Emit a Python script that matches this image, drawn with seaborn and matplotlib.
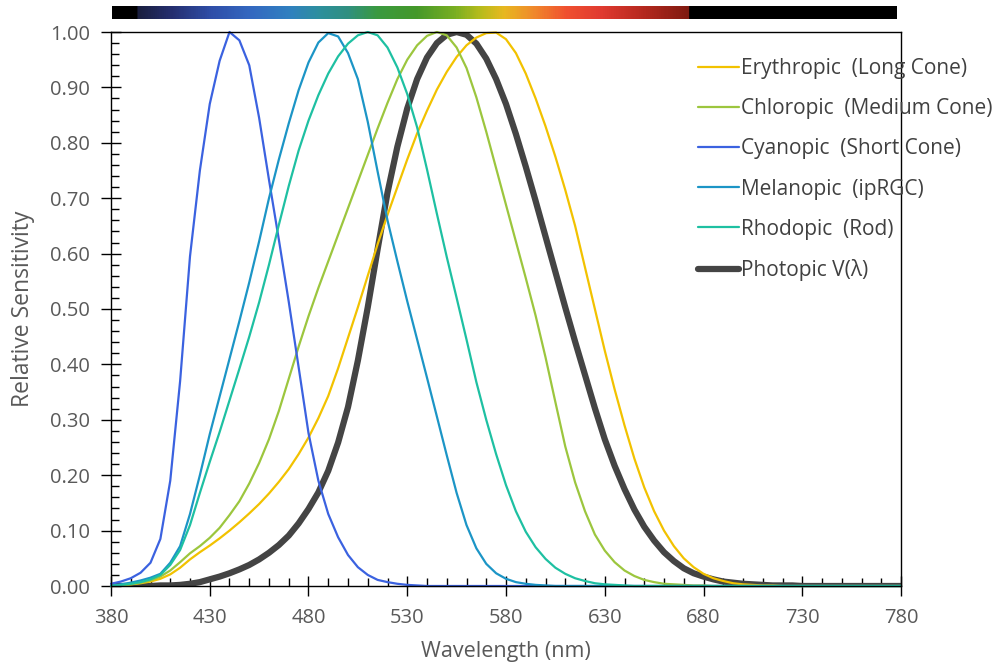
import numpy as np
import pandas as pd
import matplotlib
matplotlib.use("Agg")
import matplotlib.pyplot as plt
from matplotlib.colors import LinearSegmentedColormap
from matplotlib.ticker import MultipleLocator, FormatStrFormatter
import seaborn as sns

# wavelength grid (nm), 5 nm steps
wavelength = list(range(380, 785, 5))

# relative sensitivities
erythropic = [0.000, 0.001, 0.003, 0.005, 0.008, 0.013, 0.021, 0.033, 0.048, 0.061,
              0.073, 0.086, 0.100, 0.115, 0.131, 0.148, 0.167, 0.188, 0.211, 0.238,
              0.268, 0.303, 0.343, 0.393, 0.448, 0.503, 0.560, 0.617, 0.670, 0.720,
              0.770, 0.817, 0.858, 0.896, 0.928, 0.955, 0.976, 0.990, 0.998, 0.999,
              0.987, 0.962, 0.925, 0.880, 0.830, 0.775, 0.715, 0.650, 0.575, 0.500,
              0.425, 0.355, 0.290, 0.230, 0.178, 0.135, 0.100, 0.072, 0.050, 0.034,
              0.022, 0.014, 0.009, 0.005, 0.003, 0.002, 0.001, 0.001] + [0.0] * 13
chloropic = [0.000, 0.001, 0.003, 0.006, 0.010, 0.017, 0.028, 0.043, 0.059, 0.072,
             0.087, 0.105, 0.128, 0.153, 0.185, 0.222, 0.265, 0.316, 0.374, 0.432,
             0.487, 0.538, 0.586, 0.634, 0.682, 0.730, 0.778, 0.826, 0.872, 0.915,
             0.950, 0.976, 0.993, 1.000, 0.994, 0.972, 0.935, 0.882, 0.820, 0.754,
             0.688, 0.622, 0.556, 0.488, 0.413, 0.332, 0.252, 0.187, 0.135, 0.093,
             0.064, 0.043, 0.028, 0.018, 0.011, 0.007, 0.004, 0.003, 0.002, 0.001,
             0.001] + [0.0] * 20
cyanopic = [0.004, 0.008, 0.014, 0.024, 0.042, 0.085, 0.190, 0.370, 0.595, 0.750,
            0.870, 0.948, 1.000, 0.985, 0.940, 0.845, 0.733, 0.625, 0.513, 0.395,
            0.276, 0.190, 0.130, 0.088, 0.056, 0.034, 0.020, 0.011, 0.007, 0.004,
            0.002, 0.001] + [0.0] * 49
melanopic = [0.000, 0.003, 0.006, 0.010, 0.015, 0.022, 0.042, 0.072, 0.130, 0.200,
             0.274, 0.342, 0.410, 0.478, 0.548, 0.622, 0.700, 0.770, 0.835, 0.895,
             0.945, 0.981, 0.998, 0.992, 0.962, 0.915, 0.838, 0.748, 0.660, 0.586,
             0.514, 0.445, 0.376, 0.306, 0.236, 0.168, 0.110, 0.068, 0.040, 0.023,
             0.013, 0.007, 0.004, 0.002, 0.001] + [0.0] * 36
rhodopic = [0.000, 0.002, 0.004, 0.007, 0.012, 0.020, 0.038, 0.065, 0.110, 0.168,
            0.224, 0.278, 0.335, 0.392, 0.450, 0.512, 0.580, 0.652, 0.722, 0.786,
            0.840, 0.886, 0.925, 0.956, 0.979, 0.994, 1.000, 0.994, 0.972, 0.936,
            0.888, 0.828, 0.752, 0.672, 0.594, 0.520, 0.445, 0.368, 0.300, 0.238,
            0.182, 0.135, 0.098, 0.070, 0.049, 0.033, 0.022, 0.014, 0.009, 0.005,
            0.003, 0.002, 0.001] + [0.0] * 28
photopic = [0.000, 0.000, 0.000, 0.000, 0.000, 0.001, 0.001, 0.002, 0.004, 0.007,
            0.012, 0.017, 0.023, 0.030, 0.038, 0.048, 0.060, 0.074, 0.091, 0.113,
            0.139, 0.169, 0.208, 0.259, 0.323, 0.407, 0.503, 0.608, 0.710, 0.793,
            0.862, 0.915, 0.954, 0.980, 0.995, 1.000, 0.995, 0.979, 0.952, 0.915,
            0.870, 0.816, 0.757, 0.695, 0.631, 0.567, 0.503, 0.441, 0.381, 0.321,
            0.265, 0.217, 0.175, 0.138, 0.107, 0.082, 0.061, 0.045, 0.032, 0.023,
            0.017, 0.012, 0.008, 0.006, 0.004, 0.003, 0.002, 0.001, 0.001, 0.001] + [0.0] * 11

labels = ["Erythropic  (Long Cone)", "Chloropic  (Medium Cone)", "Cyanopic  (Short Cone)",
          "Melanopic  (ipRGC)", "Rhodopic  (Rod)", "Photopic V(λ)"]
colors = ["#f2c200", "#9cc63e", "#3b62e0", "#1c95c6", "#1ec0a2", "#444444"]
widths = [1.6, 1.6, 1.6, 1.6, 1.6, 4.5]

# spectrum bar colour stops (nm, colour)
spec_nm = [393, 410, 430, 450, 470, 485, 500, 515, 535, 555, 568, 580, 595, 612, 630, 650, 674]
spec_col = ["#1a1f40", "#252f70", "#2f4ea8", "#3468c0", "#3080c0", "#2d8f9e", "#309080",
            "#3a9a40", "#44982a", "#7aaf22", "#b8bc1c", "#e8b820", "#f08a2c", "#f05030",
            "#e03a30", "#b82a20", "#801a10"]

sns.set_style("ticks")
plt.rcParams['font.family'] = ['Open Sans', 'DejaVu Sans']

fig = plt.figure(figsize=(10.04, 6.64), dpi=100)
W, H = 1004, 664
ax = fig.add_axes([111 / W, 1 - 586 / H, 790 / W, 554 / H])

series = [erythropic, chloropic, cyanopic, melanopic, rhodopic, photopic]
for vals, lab, col, lw in zip(series, labels, colors, widths):
    df = pd.DataFrame({"wl": wavelength, "s": vals})
    thick = lw > 2
    sns.lineplot(data=df, x="wl", y="s", color=col, linewidth=lw, label=lab, ax=ax,
                 clip_on=thick, zorder=1.8 if thick else 2.2,
                 solid_joinstyle="round", solid_capstyle="round")

ax.set_xlim(380, 780)
ax.set_ylim(0, 1)
ax.set_xticks(range(380, 781, 50))
ax.xaxis.set_minor_locator(MultipleLocator(10))
ax.yaxis.set_major_locator(MultipleLocator(0.1))
ax.yaxis.set_minor_locator(MultipleLocator(0.02))
ax.yaxis.set_major_formatter(FormatStrFormatter("%.2f"))
ax.tick_params(which="major", direction="inout", length=14, width=1, color="black",
               labelsize=14.5, labelcolor="#595959")
ax.tick_params(which="minor", direction="in", length=6, width=1, color="black")
ax.tick_params(axis="x", which="major", pad=9)
ax.tick_params(axis="y", which="major", pad=8)
for sp in ax.spines.values():
    sp.set_visible(True)
    sp.set_color("black")
    sp.set_linewidth(1)
ax.set_xlabel("Wavelength (nm)", fontsize=15.5, color="#595959", labelpad=9)
ax.set_ylabel("Relative Sensitivity", fontsize=16.5, color="#595959", labelpad=11)

ax.legend(loc="upper left", bbox_to_anchor=(698 / W, 1 - 58 / H),
          bbox_transform=fig.transFigure, frameon=False, fontsize=15,
          handlelength=1.95, handletextpad=0.12, labelspacing=0.92,
          borderpad=0, borderaxespad=0, labelcolor="#404040")

# spectrum bar on top
bar = fig.add_axes([112 / W, 1 - 19 / H, 785 / W, 13 / H])
pos = [(n - spec_nm[0]) / (spec_nm[-1] - spec_nm[0]) for n in spec_nm]
cmap = LinearSegmentedColormap.from_list("spec", list(zip(pos, spec_col)))
cmap.set_under("black")
cmap.set_over("black")
grid = np.arange(380, 780.5, 0.5)
norm_vals = (grid - spec_nm[0]) / (spec_nm[-1] - spec_nm[0])
bar.imshow(norm_vals[np.newaxis, :], aspect="auto", cmap=cmap, vmin=0, vmax=1,
           extent=(380, 780, 0, 1))
bar.set_axis_off()

fig.savefig("out.png", dpi=100)
